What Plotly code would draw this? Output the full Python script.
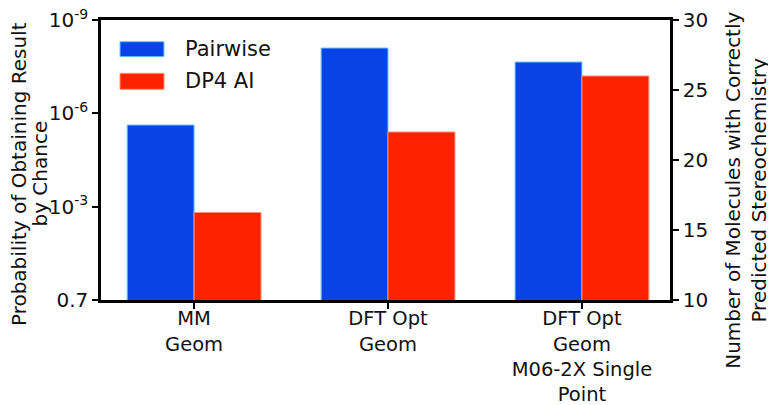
import plotly.graph_objects as go

categories = ["MM<br>Geom", "DFT Opt<br>Geom", "DFT Opt<br>Geom<br>M06-2X Single<br>Point"]
pairwise = [22.5, 28.0, 27.0]
dp4ai = [16.25, 22.0, 26.0]
series_names = ["Pairwise", "DP4 AI"]
left_tickvals = [0, 3, 6, 9]
left_ticktext = ["0.7", "10<sup>-3</sup>", "10<sup>-6</sup>", "10<sup>-9</sup>"]
right_tickvals = [10, 15, 20, 25, 30]
left_title_lines = ["Probability of Obtaining Result", "by Chance"]
right_title = "Number of Molecules with Correctly<br>Predicted Stereochemistry"

BLUE = "#0843E6"
RED = "#FF2200"
FONT = dict(family="DejaVu Sans", size=20, color="#111111")

fig = go.Figure()
fig.add_trace(go.Bar(x=categories, y=pairwise, name=series_names[0], yaxis="y2",
                     marker=dict(color=BLUE, line=dict(color="#6EC6F5", width=1)),
                     showlegend=False))
fig.add_trace(go.Bar(x=categories, y=dp4ai, name=series_names[1], yaxis="y2",
                     marker=dict(color=RED, line=dict(color="#FF9070", width=1)),
                     showlegend=False))
# invisible trace to anchor the left (probability) axis
fig.add_trace(go.Scatter(x=[categories[0], categories[-1]], y=[0, 9], mode="markers",
                         marker=dict(opacity=0), hoverinfo="skip", showlegend=False))

axis_common = dict(showline=True, linecolor="black", linewidth=2.5, ticks="outside",
                   ticklen=6, tickwidth=2, tickcolor="black", showgrid=False,
                   zeroline=False, tickfont=FONT, automargin=False,
                   ticklabeloverflow="allow")

# page body has an 8px default margin, so the figure is sized to fit inside the window
fig.update_layout(
    width=768, height=397,
    margin=dict(l=93, r=106, t=12, b=105),
    paper_bgcolor="white", plot_bgcolor="white",
    font=FONT,
    barmode="group", bargap=0.31, bargroupgap=0,
    xaxis=dict(axis_common, type="category", range=[-0.48, 2.454], mirror=True,
               tickfont=dict(FONT, size=19.5), ticklabelstandoff=-7),
    yaxis=dict(axis_common, range=[0, 9], tickvals=left_tickvals, ticktext=left_ticktext),
    yaxis2=dict(axis_common, range=[10, 30], tickvals=right_tickvals, overlaying="y", side="right"),
    showlegend=False,
)

# axis titles as rotated annotations for exact placement
for line_text, xpos in zip(left_title_lines, [-0.1440, -0.1080]):
    fig.add_annotation(xref="paper", yref="paper", x=xpos, y=0.45, text=line_text, textangle=-90,
                       showarrow=False, xanchor="center", yanchor="middle", font=FONT)
fig.add_annotation(xref="paper", yref="paper", x=1.1336, y=0.39, text=right_title, textangle=-90,
                   showarrow=False, xanchor="center", yanchor="middle", font=FONT)

# legend drawn manually to match wide swatches
legend_items = [(series_names[0], BLUE, "#6EC6F5", 0.8690, 0.9225, 0.896),
                (series_names[1], RED, "#FF9070", 0.7525, 0.8096, 0.781)]
for name, col, edge, y0, y1, yt in legend_items:
    fig.add_shape(type="rect", xref="paper", yref="paper", x0=0.0334, x1=0.1107, y0=y0, y1=y1,
                  fillcolor=col, line=dict(color=edge, width=1))
    fig.add_annotation(xref="paper", yref="paper", x=0.144, y=yt, text=name, showarrow=False,
                       xanchor="left", yanchor="middle", font=dict(FONT, size=21))

fig.write_html("out.html")
